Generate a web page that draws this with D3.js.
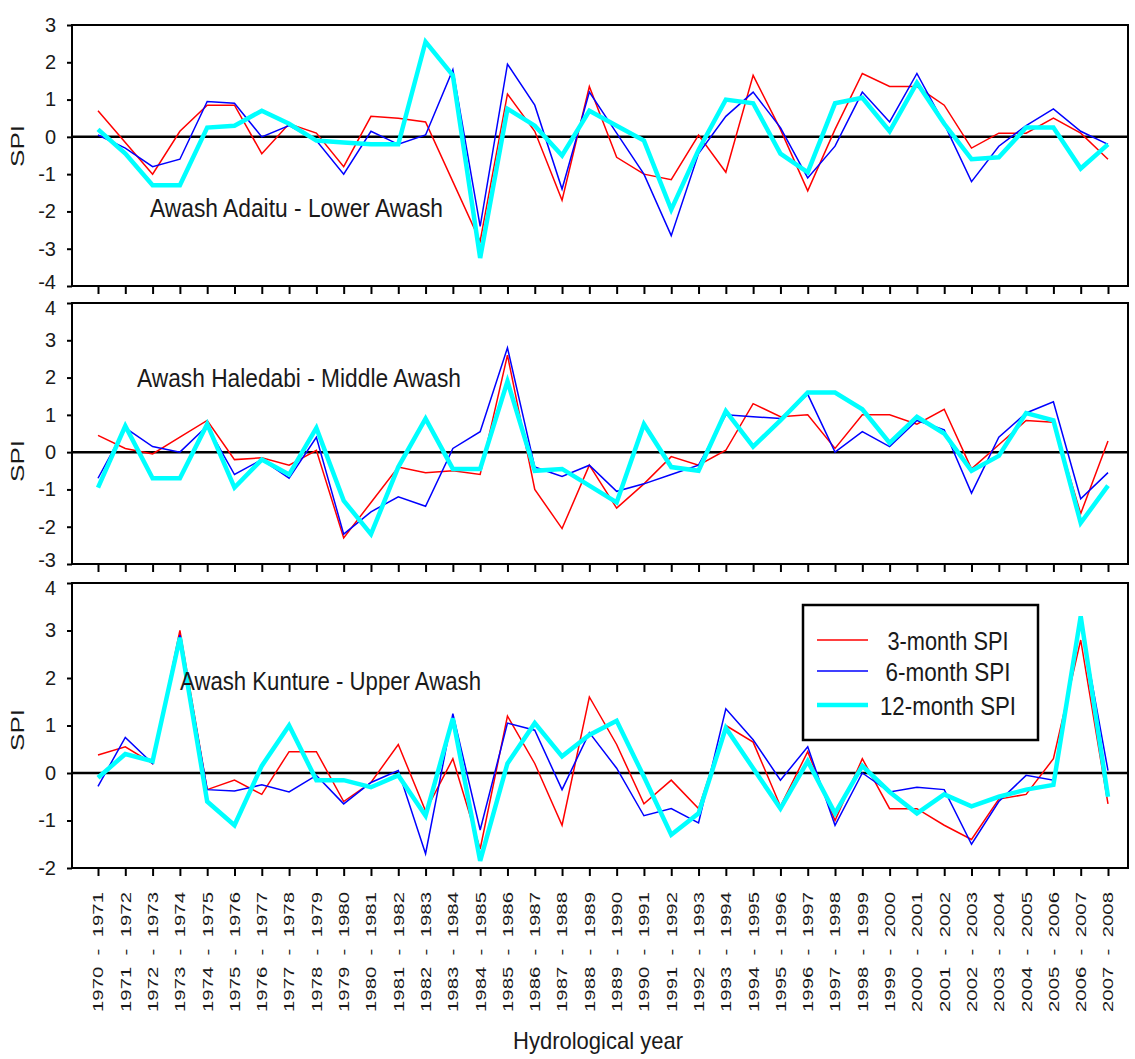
<!DOCTYPE html>
<html>
<head>
<meta charset="utf-8">
<script src="https://cdn.jsdelivr.net/npm/d3@7"></script>
<style>
  body { margin: 0; background: #fff; }
  svg { display: block; }
  text { font-family: "Liberation Sans", Arial, sans-serif; fill: #1a1a1a; }
</style>
</head>
<body>
<svg id="chart" width="1135" height="1059"></svg>
<script>
// Hydrological years (x categories)
const hydroYears = [
  "1970 - 1971", "1971 - 1972", "1972 - 1973", "1973 - 1974", "1974 - 1975",
  "1975 - 1976", "1976 - 1977", "1977 - 1978", "1978 - 1979", "1979 - 1980",
  "1980 - 1981", "1981 - 1982", "1982 - 1983", "1983 - 1984", "1984 - 1985",
  "1985 - 1986", "1986 - 1987", "1987 - 1988", "1988 - 1989", "1989 - 1990",
  "1990 - 1991", "1991 - 1992", "1992 - 1993", "1993 - 1994", "1994 - 1995",
  "1995 - 1996", "1996 - 1997", "1997 - 1998", "1998 - 1999", "1999 - 2000",
  "2000 - 2001", "2001 - 2002", "2002 - 2003", "2003 - 2004", "2004 - 2005",
  "2005 - 2006", "2006 - 2007", "2007 - 2008"
];

// Awash Adaitu - Lower Awash
const adaitu3  = [0.7, -0.15, -1.0, 0.15, 0.85, 0.85, -0.45, 0.35, 0.1, -0.8, 0.55, 0.5, 0.4, -1.2, -2.8, 1.15, 0.15, -1.7,
                  1.35, -0.55, -1.0, -1.15, 0.05, -0.95, 1.65, 0.2, -1.45, 0.2, 1.7, 1.35, 1.35, 0.85, -0.3, 0.1, 0.1, 0.5, 0.1, -0.6];
const adaitu6  = [0.05, -0.3, -0.8, -0.6, 0.95, 0.9, 0.0, 0.3, -0.1, -1.0, 0.15, -0.2, 0.05, 1.8, -2.4, 1.95, 0.85, -1.4,
                  1.2, 0.1, -1.0, -2.65, -0.45, 0.55, 1.2, 0.25, -1.1, -0.25, 1.2, 0.4, 1.7, 0.35, -1.2, -0.25, 0.3, 0.75, 0.15, -0.2];
const adaitu12 = [0.2, -0.45, -1.3, -1.3, 0.25, 0.3, 0.7, 0.35, -0.1, -0.15, -0.2, -0.2, 2.55, 1.65, -3.25, 0.75, 0.3, -0.5,
                  0.7, 0.3, -0.1, -1.95, -0.35, 1.0, 0.9, -0.45, -0.95, 0.9, 1.05, 0.15, 1.45, 0.35, -0.6, -0.55, 0.25, 0.25, -0.85, -0.2];

// Awash Haledabi - Middle Awash
const haledabi3  = [0.45, 0.1, -0.05, 0.4, 0.85, -0.2, -0.15, -0.35, 0.05, -2.3, -1.35, -0.4, -0.55, -0.5, -0.6, 2.6, -1.0, -2.05,
                    -0.35, -1.5, -0.85, -0.12, -0.35, 0.05, 1.3, 0.95, 1.0, 0.1, 1.0, 1.0, 0.75, 1.15, -0.45, 0.2, 0.85, 0.8, -1.65, 0.3];
const haledabi6  = [-0.7, 0.65, 0.15, 0.0, 0.7, -0.6, -0.2, -0.7, 0.4, -2.2, -1.6, -1.2, -1.45, 0.1, 0.55, 2.8, -0.4, -0.65,
                    -0.35, -1.05, -0.85, -0.6, -0.35, 1.0, 0.95, 0.9, 1.55, 0.0, 0.55, 0.15, 0.85, 0.6, -1.1, 0.4, 1.05, 1.35, -1.25, -0.55];
const haledabi12 = [-0.95, 0.7, -0.7, -0.7, 0.75, -0.95, -0.2, -0.6, 0.65, -1.3, -2.2, -0.4, 0.9, -0.45, -0.45, 1.9, -0.5, -0.45,
                    -0.9, -1.35, 0.75, -0.4, -0.5, 1.1, 0.15, 0.85, 1.6, 1.6, 1.15, 0.25, 0.95, 0.5, -0.5, -0.1, 1.05, 0.85, -1.9, -0.9];

// Awash Kunture - Upper Awash
const kunture3  = [0.38, 0.55, 0.2, 3.0, -0.35, -0.15, -0.45, 0.45, 0.45, -0.6, -0.2, 0.6, -0.8, 0.3, -1.6, 1.2, 0.2, -1.1,
                   1.6, 0.6, -0.65, -0.15, -0.75, 1.0, 0.65, -0.7, 0.45, -1.0, 0.3, -0.75, -0.75, -1.1, -1.4, -0.55, -0.45, 0.3, 2.8, -0.65];
const kunture6  = [-0.28, 0.75, 0.2, 2.9, -0.35, -0.38, -0.25, -0.4, -0.05, -0.65, -0.2, 0.05, -1.7, 1.25, -1.2, 1.05, 0.9, -0.35,
                   0.85, 0.1, -0.9, -0.75, -1.05, 1.35, 0.7, -0.15, 0.55, -1.1, 0.0, -0.4, -0.3, -0.35, -1.5, -0.6, -0.05, -0.15, 3.2, 0.05];
const kunture12 = [-0.1, 0.4, 0.25, 2.85, -0.6, -1.1, 0.15, 1.0, -0.15, -0.15, -0.3, -0.05, -0.9, 1.15, -1.85, 0.2, 1.05, 0.35,
                   0.8, 1.1, -0.08, -1.3, -0.85, 0.95, 0.1, -0.75, 0.25, -0.85, 0.15, -0.4, -0.85, -0.45, -0.7, -0.5, -0.35, -0.25, 3.3, -0.5];

const seriesNames = ["3-month SPI", "6-month SPI", "12-month SPI"];
const seriesColors = ["#ff0000", "#0000ff", "#00ffff"];
const seriesWidths = [1.5, 1.5, 4.5];

const panels = [
  { title: "Awash Adaitu - Lower Awash", series: [adaitu3, adaitu6, adaitu12],
    domain: [-4, 3], top: 25, bottom: 286, titleX: 150, titleY: 217, titleLen: 293, spiY: 146 },
  { title: "Awash Haledabi - Middle Awash", series: [haledabi3, haledabi6, haledabi12],
    domain: [-3, 4], top: 303, bottom: 564, titleX: 137, titleY: 387, titleLen: 324, spiY: 461 },
  { title: "Awash Kunture - Upper Awash", series: [kunture3, kunture6, kunture12],
    domain: [-2, 4], top: 583, bottom: 868, titleX: 180, titleY: 690, titleLen: 301, spiY: 730 }
];

const svg = d3.select("#chart");
const left = 72, right = 1128;

const x = d3.scalePoint().domain(hydroYears).range([98, 1108]);

panels.forEach((p, pi) => {
  const y = d3.scaleLinear().domain(p.domain).range([p.bottom, p.top]);
  const g = svg.append("g");

  // zero reference line
  g.append("line")
    .attr("x1", left).attr("x2", right)
    .attr("y1", y(0)).attr("y2", y(0))
    .attr("stroke", "#000").attr("stroke-width", 2.5);

  // SPI series
  const line = d3.line().x((d, i) => x(hydroYears[i])).y(d => y(d));
  p.series.forEach((vals, k) => {
    g.append("path")
      .datum(vals)
      .attr("d", line)
      .attr("fill", "none")
      .attr("stroke", seriesColors[k])
      .attr("stroke-width", seriesWidths[k])
      .attr("stroke-linejoin", "miter");
  });

  // frame
  g.append("rect")
    .attr("x", left).attr("y", p.top)
    .attr("width", right - left).attr("height", p.bottom - p.top)
    .attr("fill", "none").attr("stroke", "#000").attr("stroke-width", 2);

  // y axis (plain hyphen minus signs)
  const yAxis = d3.axisLeft(y).tickValues(d3.range(p.domain[0], p.domain[1] + 1))
    .tickSize(5).tickPadding(11).tickFormat(d => String(d));
  const ya = g.append("g").attr("transform", `translate(${left},0)`).call(yAxis);
  ya.select(".domain").remove();
  ya.selectAll(".tick line").attr("stroke", "#000").attr("stroke-width", 2);
  ya.selectAll(".tick text")
    .attr("font-size", 20)
    .attr("fill", "#1a1a1a")
    .attr("font-family", '"Liberation Sans", Arial, sans-serif')
    // keep the labels at panel joins from colliding
    .attr("dy", d => d === p.domain[0] && pi < panels.length - 1 ? "0.12em"
                   : d === p.domain[1] && pi > 0 ? "0.55em" : "0.32em");

  // x ticks along each panel's bottom
  const xAxis = d3.axisBottom(x).tickSize(8).tickFormat("");
  const xa = g.append("g").attr("transform", `translate(0,${p.bottom})`).call(xAxis);
  xa.select(".domain").remove();
  xa.selectAll(".tick line").attr("stroke", "#000").attr("stroke-width", 2);

  // panel title
  g.append("text")
    .attr("x", p.titleX).attr("y", p.titleY)
    .attr("font-size", 25)
    .attr("textLength", p.titleLen)
    .attr("lengthAdjust", "spacingAndGlyphs")
    .text(p.title);

  // y axis title
  g.append("text")
    .attr("transform", `translate(24,${p.spiY}) rotate(-90)`)
    .attr("text-anchor", "middle")
    .attr("font-size", 18)
    .attr("textLength", 42)
    .attr("lengthAdjust", "spacingAndGlyphs")
    .text("SPI");
});

// x tick labels under the bottom panel
svg.append("g").selectAll("text")
  .data(hydroYears)
  .join("text")
  .attr("transform", d => `translate(${x(d)},892) rotate(-90)`)
  .attr("text-anchor", "end")
  .attr("dy", "0.36em")
  .attr("font-size", 15)
  .attr("textLength", 120)
  .attr("lengthAdjust", "spacingAndGlyphs")
  .text(d => d.replace(/ /g, "\u00a0\u00a0"));

// x axis title
svg.append("text")
  .attr("x", 513).attr("y", 1049)
  .attr("font-size", 24)
  .attr("textLength", 170)
  .attr("lengthAdjust", "spacingAndGlyphs")
  .text("Hydrological year");

// legend in the bottom panel
const legend = svg.append("g");
legend.append("rect")
  .attr("x", 803).attr("y", 605).attr("width", 235).attr("height", 135)
  .attr("fill", "#fff").attr("stroke", "#000").attr("stroke-width", 2.5);
const legendRows = [640, 671, 705];
const legendLens = [121, 125, 136];
seriesNames.forEach((name, k) => {
  legend.append("line")
    .attr("x1", 817).attr("x2", 868)
    .attr("y1", legendRows[k]).attr("y2", legendRows[k])
    .attr("stroke", seriesColors[k]).attr("stroke-width", seriesWidths[k]);
  legend.append("text")
    .attr("x", 948).attr("y", legendRows[k] + 10)
    .attr("text-anchor", "middle")
    .attr("font-size", 25)
    .attr("textLength", legendLens[k])
    .attr("lengthAdjust", "spacingAndGlyphs")
    .text(name);
});
</script>
</body>
</html>
